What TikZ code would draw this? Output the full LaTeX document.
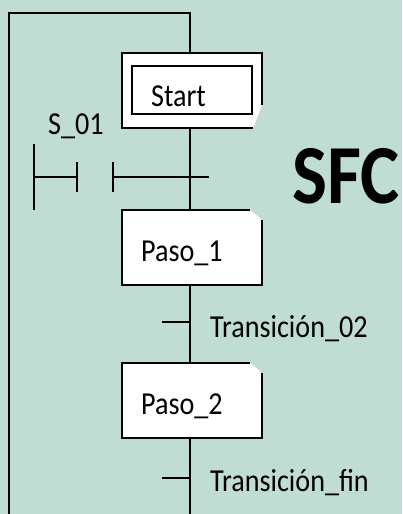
\documentclass[tikz,border=0pt]{standalone}
\usepackage{fontspec}
\setmainfont{Carlito}[FakeStretch=0.88]
\usepackage{xcolor}
\usepackage{tikz}
\usetikzlibrary{calc}
\definecolor{sfcbg}{RGB}{192,221,212}

\begin{document}
\begin{tikzpicture}[x=1pt,y=-1pt,line width=2.2pt,
    stepbox/.style={minimum width=138pt,minimum height=73pt,inner sep=0pt},
    lbl/.style={anchor=base west,inner sep=0pt,font=\fontsize{32}{36}\selectfont}]
    \fill[sfcbg] (0,0) rectangle (402,514);
    \useasboundingbox (0,0) rectangle (402,514);
    % steps
    \node[stepbox] (start) at (192,90.5) {};
    \node[stepbox] (paso1) at (192,247.5) {};
    \node[stepbox] (paso2) at (192,400.5) {};
    \coordinate (t0) at (190,177);
    \coordinate (t1) at (190,322);
    \coordinate (t2) at (190,478);
    \coordinate (ltop) at (9,13);
    \coordinate (lbot) at (9,514);
    \coordinate (bot) at (190,514);
    % start box, corner cut at the bottom
    \fill[white] (start.north west) -- (start.north east) -- ($(start.north east)+(0,52)$)
        -- ($(start.south east)+(-9,0)$) -- (start.south west) -- cycle;
    \draw ($(start.north east)+(0,52)$) -- (start.north east) -- (start.north west)
        -- (start.south west) -- ($(start.south east)+(-9,0)$);
    \node[draw,fill=white,minimum width=120pt,minimum height=48pt,inner sep=0pt] (startin) at (192,90) {};
    % step boxes, corner cut at the top
    \foreach \s in {paso1,paso2} {
        \fill[white] (\s.north west) -- ($(\s.north east)+(-12,0)$) -- ($(\s.north east)+(0,10)$)
            -- (\s.south east) -- (\s.south west) -- cycle;
        \draw ($(\s.north east)+(0,10)$) -- (\s.south east) -- (\s.south west)
            -- (\s.north west) -- ($(\s.north east)+(-12,0)$);
    }
    % links
    \draw (start.north -| t0) |- (ltop) -- (lbot);
    \draw (start.south -| t0) -- (paso1.north -| t0);
    \draw (paso1.south -| t0) -- (paso2.north -| t0);
    \draw (paso2.south -| t0) -- (bot);
    % transitions
    \draw ($(t1)+(-28,0)$) -- (t1);
    \draw ($(t2)+(-28,0)$) -- (t2);
    \coordinate (c0) at (34,177);
    \coordinate (c1) at (77,177);
    \coordinate (c2) at (113,177);
    \draw ($(c0)+(0,-33)$) -- ($(c0)+(0,33)$);
    \draw (c0) -- (c1);
    \draw ($(c1)+(0,-15)$) -- ($(c1)+(0,15)$);
    \draw ($(c2)+(0,-15)$) -- ($(c2)+(0,15)$);
    \draw (c2) -- ($(t0)+(19,0)$);
    % texts
    \node[lbl] (startlbl) at (150,106) {Start};
    \node[lbl] (s01) at (47,134) {S\_01};
    \node[lbl] (p1lbl) at (140,261) {Paso\_1};
    \node[lbl] (p2lbl) at (140,414) {Paso\_2};
    \node[lbl] (t02) at (209,337) {Transición\_02};
    \node[lbl] (tfin) at (209,491) {Transición\_fin};
    \node[anchor=base west,inner sep=0pt,font=\fontsize{84}{90}\selectfont\bfseries] (sfc) at (291,203) {SFC};
\end{tikzpicture}
\end{document}
